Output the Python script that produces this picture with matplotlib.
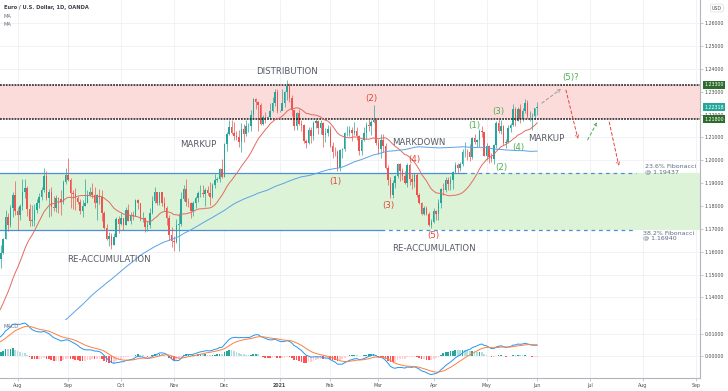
import numpy as np
import pandas as pd
import matplotlib
matplotlib.use("Agg")
import matplotlib.pyplot as plt
from matplotlib.transforms import blended_transform_factory

# ---------------- data ----------------
# daily closes before the visible window (Mar 2 - Jul 21 2020), used only for the indicators
hist_close = [
    1.1136, 1.1172, 1.1136, 1.1240, 1.1284, 1.1450, 1.1284, 1.1268, 1.1180, 1.1106, 1.1185,
    1.0995, 1.0917, 1.0690, 1.0695, 1.0721, 1.0791, 1.0885, 1.1030, 1.1141, 1.1044, 1.1030,
    1.0961, 1.0857, 1.0805, 1.0792, 1.0893, 1.0857, 1.0934, 1.0940, 1.0914, 1.0985, 1.0902,
    1.0838, 1.0875, 1.0862, 1.0856, 1.0822, 1.0778, 1.0820, 1.0823, 1.0825, 1.0873, 1.0955,
    1.0980, 1.0910, 1.0839, 1.0796, 1.0833, 1.0840, 1.0806, 1.0849, 1.0816, 1.0803, 1.0819,
    1.0917, 1.0922, 1.0975, 1.0945, 1.0900, 1.0898, 1.0976, 1.1007, 1.1075, 1.1103,
    1.1135, 1.1171, 1.1236, 1.1335, 1.1292, 1.1293, 1.1343, 1.1373, 1.1300, 1.1256, 1.1325,
    1.1262, 1.1245, 1.1206, 1.1178, 1.1259, 1.1306, 1.1249, 1.1219, 1.1219, 1.1245, 1.1234,
    1.1250, 1.1238, 1.1246, 1.1309, 1.1274, 1.1331, 1.1286, 1.1301, 1.1343, 1.1412, 1.1411,
    1.1383, 1.1428, 1.1444, 1.1526,
]

# visible daily bars, Jul 22 2020 - Jun 1 2021 (open = previous close)
close = [
    1.1567, 1.1596, 1.1656, 1.1753, 1.1716, 1.1789, 1.1847, 1.1776,
    1.1762, 1.1800, 1.1862, 1.1877, 1.1786, 1.1735, 1.1738, 1.1784, 1.1813, 1.1841, 1.1868,
    1.1931, 1.1837, 1.1859, 1.1796, 1.1792, 1.1833, 1.1832, 1.1818, 1.1904, 1.1937,
    1.1913, 1.1855, 1.1851, 1.1837, 1.1818, 1.1779, 1.1799, 1.1813, 1.1846, 1.1863, 1.1846,
    1.1815, 1.1849, 1.1838, 1.1771, 1.1703, 1.1657, 1.1670, 1.1631, 1.1665, 1.1745, 1.1722,
    1.1747, 1.1716, 1.1782, 1.1735, 1.1761, 1.1758, 1.1826, 1.1813, 1.1744, 1.1747, 1.1706,
    1.1718, 1.1768, 1.1820, 1.1862, 1.1815, 1.1860, 1.1811, 1.1793, 1.1746, 1.1674, 1.1646,
    1.1641, 1.1716, 1.1722, 1.1831, 1.1876, 1.1816, 1.1812, 1.1779, 1.1811, 1.1834, 1.1855,
    1.1857, 1.1851, 1.1872, 1.1858, 1.1841, 1.1890, 1.1914, 1.1917, 1.1963, 1.1927,
    1.2073, 1.2114, 1.2147, 1.2121, 1.2106, 1.2100, 1.2078, 1.2135, 1.2114, 1.2148, 1.2150,
    1.2198, 1.2266, 1.2255, 1.2240, 1.2160, 1.2190, 1.2186, 1.2188, 1.2214, 1.2250, 1.2297, 1.2215,
    1.2216, 1.2249, 1.2297, 1.2325, 1.2272, 1.2218, 1.2150, 1.2206, 1.2159, 1.2153, 1.2083,
    1.2075, 1.2131, 1.2105, 1.2164, 1.2170, 1.2140, 1.2163, 1.2111, 1.2120, 1.2136,
    1.2061, 1.2038, 1.2036, 1.1964, 1.2046, 1.2049, 1.2119, 1.2120, 1.2132, 1.2119, 1.2126,
    1.2106, 1.2040, 1.2090, 1.2120, 1.2155, 1.2152, 1.2167, 1.2176, 1.2075,
    1.2048, 1.2090, 1.2062, 1.1965, 1.1915, 1.1849, 1.1900, 1.1929, 1.1983, 1.1952, 1.1929,
    1.1902, 1.1978, 1.1917, 1.1904, 1.1937, 1.1850, 1.1813, 1.1763, 1.1792, 1.1763, 1.1718, 1.1730,
    1.1778, 1.1765, 1.1812, 1.1874, 1.1869, 1.1915, 1.1898, 1.1912, 1.1947, 1.1979, 1.1966,
    1.1982, 1.2036, 1.2037, 1.2034, 1.2015, 1.2098, 1.2082, 1.2088, 1.2129, 1.2124, 1.2020,
    1.2062, 1.2016, 1.2004, 1.2066, 1.2165, 1.2130, 1.2149, 1.2074, 1.2080, 1.2143, 1.2154,
    1.2223, 1.2173, 1.2226, 1.2180, 1.2214, 1.2251, 1.2192, 1.2192, 1.2192, 1.2227,
    1.2232,
]
high = [
    1.1601, 1.1629, 1.1660, 1.1782, 1.1768, 1.1806, 1.1863, 1.1908,
    1.1796, 1.1810, 1.1916, 1.1916, 1.1887, 1.1810, 1.1805, 1.1810, 1.1831, 1.1858, 1.1883,
    1.1966, 1.1951, 1.1875, 1.1884, 1.1843, 1.1848, 1.1840, 1.1870, 1.1915, 1.1966,
    1.2011, 1.1924, 1.1869, 1.1880, 1.1845, 1.1830, 1.1826, 1.1917, 1.1872, 1.1883, 1.1900,
    1.1882, 1.1852, 1.1873, 1.1871, 1.1779, 1.1723, 1.1687, 1.1683, 1.1683, 1.1750, 1.1754,
    1.1771, 1.1749, 1.1797, 1.1809, 1.1775, 1.1780, 1.1831, 1.1830, 1.1815, 1.1772, 1.1750,
    1.1733, 1.1790, 1.1842, 1.1881, 1.1860, 1.1860, 1.1860, 1.1841, 1.1799, 1.1761, 1.1708,
    1.1669, 1.1745, 1.1770, 1.1861, 1.1891, 1.1920, 1.1835, 1.1818, 1.1821, 1.1843, 1.1867,
    1.1893, 1.1892, 1.1877, 1.1889, 1.1905, 1.1902, 1.1941, 1.1928, 1.1966, 1.2004,
    1.2077, 1.2123, 1.2176, 1.2178, 1.2167, 1.2130, 1.2133, 1.2163, 1.2160, 1.2178, 1.2162,
    1.2219, 1.2273, 1.2272, 1.2260, 1.2250, 1.2199, 1.2212, 1.2192, 1.2250, 1.2276, 1.2310, 1.2310,
    1.2220, 1.2310, 1.2304, 1.2349, 1.2339, 1.2285, 1.2215, 1.2212, 1.2222, 1.2175, 1.2159,
    1.2091, 1.2144, 1.2145, 1.2172, 1.2180, 1.2177, 1.2176, 1.2167, 1.2142, 1.2154,
    1.2152, 1.2078, 1.2058, 1.2045, 1.2050, 1.2055, 1.2122, 1.2150, 1.2149, 1.2146, 1.2169,
    1.2145, 1.2109, 1.2093, 1.2145, 1.2168, 1.2180, 1.2174, 1.2243, 1.2183,
    1.2092, 1.2114, 1.2113, 1.2074, 1.1979, 1.1925, 1.1914, 1.1935, 1.1990, 1.1988, 1.1966,
    1.1952, 1.1990, 1.1989, 1.1941, 1.1945, 1.1943, 1.1858, 1.1818, 1.1802, 1.1800, 1.1775, 1.1743,
    1.1790, 1.1784, 1.1829, 1.1879, 1.1899, 1.1928, 1.1927, 1.1932, 1.1955, 1.1994, 1.1990,
    1.1994, 1.2048, 1.2079, 1.2049, 1.2071, 1.2101, 1.2117, 1.2091, 1.2138, 1.2150, 1.2125,
    1.2077, 1.2066, 1.2030, 1.2071, 1.2172, 1.2181, 1.2177, 1.2153, 1.2092, 1.2156, 1.2165,
    1.2245, 1.2234, 1.2232, 1.2244, 1.2229, 1.2266, 1.2262, 1.2217, 1.2206, 1.2230,
    1.2254,
]
low = [
    1.1508, 1.1530, 1.1589, 1.1657, 1.1690, 1.1708, 1.1753, 1.1762,
    1.1696, 1.1738, 1.1781, 1.1833, 1.1755, 1.1712, 1.1711, 1.1712, 1.1770, 1.1790, 1.1824,
    1.1862, 1.1827, 1.1753, 1.1754, 1.1778, 1.1775, 1.1770, 1.1762, 1.1810, 1.1895,
    1.1911, 1.1789, 1.1788, 1.1781, 1.1810, 1.1765, 1.1753, 1.1800, 1.1812, 1.1843, 1.1834,
    1.1789, 1.1737, 1.1809, 1.1736, 1.1701, 1.1652, 1.1627, 1.1612, 1.1631, 1.1666, 1.1681,
    1.1716, 1.1696, 1.1716, 1.1733, 1.1721, 1.1738, 1.1757, 1.1786, 1.1736, 1.1732, 1.1688,
    1.1689, 1.1704, 1.1763, 1.1812, 1.1803, 1.1806, 1.1802, 1.1777, 1.1718, 1.1650, 1.1622,
    1.1603, 1.1640, 1.1603, 1.1713, 1.1820, 1.1800, 1.1795, 1.1746, 1.1755, 1.1790, 1.1817,
    1.1838, 1.1840, 1.1800, 1.1848, 1.1806, 1.1836, 1.1880, 1.1904, 1.1905, 1.1924,
    1.1925, 1.2040, 1.2109, 1.2113, 1.2090, 1.2088, 1.2059, 1.2036, 1.2081, 1.2107, 1.2124,
    1.2127, 1.2180, 1.2222, 1.2130, 1.2153, 1.2155, 1.2164, 1.2182, 1.2181, 1.2209, 1.2239, 1.2208,
    1.2210, 1.2241, 1.2231, 1.2263, 1.2253, 1.2192, 1.2132, 1.2133, 1.2155, 1.2129, 1.2074,
    1.2054, 1.2071, 1.2077, 1.2087, 1.2140, 1.2115, 1.2114, 1.2059, 1.2080, 1.2105,
    1.2057, 1.2011, 1.2018, 1.1952, 1.1952, 1.2012, 1.2040, 1.2105, 1.2105, 1.2086, 1.2110,
    1.2090, 1.2023, 1.2022, 1.2083, 1.2091, 1.2128, 1.2110, 1.2161, 1.2066,
    1.2026, 1.2008, 1.2038, 1.1962, 1.1893, 1.1835, 1.1836, 1.1880, 1.1924, 1.1910, 1.1914,
    1.1898, 1.1883, 1.1892, 1.1874, 1.1883, 1.1838, 1.1809, 1.1761, 1.1762, 1.1760, 1.1712, 1.1704,
    1.1727, 1.1740, 1.1739, 1.1793, 1.1848, 1.1863, 1.1871, 1.1870, 1.1876, 1.1943, 1.1945,
    1.1955, 1.1975, 1.2016, 1.2002, 1.1995, 1.2005, 1.2073, 1.2058, 1.2059, 1.2100, 1.2018,
    1.1999, 1.1986, 1.1994, 1.1985, 1.2052, 1.2119, 1.2114, 1.2068, 1.2052, 1.2076, 1.2124,
    1.2149, 1.2152, 1.2171, 1.2162, 1.2172, 1.2206, 1.2183, 1.2173, 1.2134, 1.2180,
    1.2200,
]

resistance_zone = [1.21800, 1.23300]
fib_levels = [1.19437, 1.16940]
fib_labels = ["23.6% Fibonacci\n@ 1.19437", "38.2% Fibonacci\n@ 1.16940"]
fib_label_dates = ["2021-08-03", "2021-08-02"]
fib_label_prices = [1.1961, 1.1671]
last_price = 1.22318

phase_labels = [("DISTRIBUTION", "2021-01-06", 1.2390),
                ("MARKUP", "2020-11-16", 1.2067),
                ("MARKDOWN", "2021-03-24", 1.2076),
                ("MARKUP", "2021-06-07", 1.2093),
                ("RE-ACCUMULATION", "2020-09-24", 1.1568),
                ("RE-ACCUMULATION", "2021-04-01", 1.1616)]
red_waves = [("(1)", "2021-02-03", 1.1909), ("(2)", "2021-02-24", 1.2268),
             ("(3)", "2021-03-05", 1.1800), ("(4)", "2021-03-22", 1.2005),
             ("(5)", "2021-04-01", 1.1669)]
green_waves = [("(1)", "2021-04-26", 1.2154), ("(2)", "2021-05-11", 1.1970),
               ("(3)", "2021-05-10", 1.2215), ("(4)", "2021-05-20", 1.2054),
               ("(5)?", "2021-06-21", 1.2360)]
# projected path: (start date, start price, end date, end price, colour)
projections = [("2021-06-03", 1.2250, "2021-06-15", 1.2312, "#9a9a9a"),
               ("2021-06-17", 1.2307, "2021-06-24", 1.2093, "#e0463c"),
               ("2021-06-30", 1.2089, "2021-07-06", 1.2167, "#4caf50"),
               ("2021-07-13", 1.2167, "2021-07-19", 1.1975, "#e0463c")]
fib_solid_end = ["2021-04-19", "2021-03-02"]
fib_dash_end = ["2021-07-28", "2021-07-27"]

# ---------------- helpers ----------------
all_days = pd.bdate_range("2020-03-02", "2021-09-30")
pos = {d.strftime("%Y-%m-%d"): i for i, d in enumerate(all_days)}
def X(d):
    return pos[d]

full_close = pd.Series(hist_close + close, dtype=float)
n_hist = len(hist_close)
n = len(close)
xv = np.arange(n_hist, n_hist + n)
c = np.array(close)
o = full_close.shift(1).values[n_hist:n_hist + n]
h = np.array(high)
l = np.array(low)

sma20 = full_close.rolling(20).mean().values[n_hist:]
sma100 = full_close.rolling(100).mean().values[n_hist:]
ema12 = full_close.ewm(span=12, adjust=False).mean()
ema26 = full_close.ewm(span=26, adjust=False).mean()
macd = ema12 - ema26
signal = macd.ewm(span=9, adjust=False).mean()
hist = (macd - signal).values
macd_v = macd.values[n_hist:]
sig_v = signal.values[n_hist:]
hist_v = hist[n_hist:]
hist_prev = hist[n_hist - 1:-1]

# ---------------- figure ----------------
W, H = 728, 391
fig = plt.figure(figsize=(W / 100, H / 100), dpi=100)
ax = fig.add_axes([0, 1 - 320 / H, 700 / W, 320 / H])
axm = fig.add_axes([0, 1 - 378 / H, 700 / W, 58 / H], sharex=ax)

px_per_bar = 2.405
aug3 = X("2020-08-03")
x0 = aug3 - 17.6 / px_per_bar
x1 = x0 + 700 / px_per_bar
ax.set_xlim(x0, x1)
ax.set_ylim(1.2701 - 320 / 2286, 1.2701)
axm.set_ylim(-0.00956, 0.0162)

grid_c = "#eef0f4"
month_starts = [d for i, d in enumerate(all_days) if i == 0 or d.month != all_days[i - 1].month]
month_starts = [d for d in month_starts if d >= pd.Timestamp("2020-08-01")]
mpos = [pos[d.strftime("%Y-%m-%d")] for d in month_starts]
mlab = ["2021" if (d.month == 1) else d.strftime("%b") for d in month_starts]

for a in (ax, axm):
    a.set_facecolor("white")
    for s in ("top", "left"):
        a.spines[s].set_visible(False)
    a.spines["right"].set_color("#b2b5be")
    a.spines["bottom"].set_color("#b2b5be")
    a.spines["right"].set_linewidth(0.8)
    a.spines["bottom"].set_linewidth(0.8)
    a.yaxis.tick_right()
    a.tick_params(axis="y", labelsize=3.4, colors="#b2b5be", labelcolor="#4a4a4a",
                  length=2, width=0.5, pad=1.5)
    a.set_xticks(mpos)
    a.grid(True, color=grid_c, lw=0.6, zorder=0)
    a.set_axisbelow(True)

ax.tick_params(axis="x", length=0, labelbottom=False)
axm.tick_params(axis="x", labelsize=3.4, colors="#b2b5be", labelcolor="#4a4a4a",
                length=2, width=0.5, pad=1.5)
axm.set_xticklabels(mlab)
for t in axm.get_xticklabels():
    if t.get_text() == "2021":
        t.set_fontweight("bold")

ax.set_yticks(np.arange(1.14, 1.2651, 0.01))
ax.yaxis.set_major_formatter(plt.FuncFormatter(lambda v, p: f"{v:.5f}"))
axm.set_yticks([0.0, 0.01])
axm.yaxis.set_major_formatter(plt.FuncFormatter(lambda v, p: f"{v:.5f}"))

# zones
ax.axhspan(resistance_zone[0], resistance_zone[1], color="#fcdcda", lw=0, zorder=1)
ax.axhspan(fib_levels[1], fib_levels[0], color="#ddf3d7", lw=0, zorder=1)
for y in resistance_zone:
    ax.axhline(y, color="#1a1a1a", lw=1.1, ls=(0, (1.2, 0.7)), zorder=4)
fib_c = "#4a90d9"
for lvl, se, de in zip(fib_levels, fib_solid_end, fib_dash_end):
    ax.plot([x0, X(se)], [lvl, lvl], color=fib_c, lw=0.9, zorder=2)
    ax.plot([X(se), X(de)], [lvl, lvl], color=fib_c, lw=0.9, ls=(0, (3, 3)), zorder=2)

# candles
up_c, dn_c = "#26a69a", "#ef5350"
cols = np.where(c >= o, up_c, dn_c)
ax.vlines(xv, l, h, colors=cols, lw=0.5, zorder=3)
ax.bar(xv, np.maximum(np.abs(c - o), 0.00012), bottom=np.minimum(o, c), width=0.62,
       color=cols, lw=0, zorder=3)

# moving averages
ax.plot(xv, sma20, color="#e36a5e", lw=0.7, zorder=4)
ax.plot(xv, sma100, color="#5aa2e6", lw=0.7, zorder=4)

# text annotations
txt_c = "#575a66"
for s, d, y in phase_labels:
    ax.text(X(d), y, s, ha="center", va="center", fontsize=6.2, color=txt_c, zorder=6)
for s, d, y in red_waves:
    ax.text(X(d), y, s, ha="center", va="center", fontsize=6.2, color="#e0463c", zorder=6)
for s, d, y in green_waves:
    ax.text(X(d), y, s, ha="center", va="center", fontsize=6.2, color="#4caf50", zorder=6)
for lab, d, y in zip(fib_labels, fib_label_dates, fib_label_prices):
    ax.text(X(d), y, lab, ha="left", va="center", fontsize=4.5, color="#5a6a80",
            linespacing=0.95, zorder=6)

for d0, y0, d1, y1, col in projections:
    ax.annotate("", xy=(X(d1), y1), xytext=(X(d0), y0),
                arrowprops=dict(arrowstyle="->", color=col, lw=0.7, ls=(0, (3, 2.5)),
                                shrinkA=0, shrinkB=0, mutation_scale=5), zorder=6)

# header texts
fig.text(4 / W, 1 - 7 / H, "Euro / U.S. Dollar, 1D, OANDA", fontsize=3.7,
         fontweight="bold", color="#3c3f48", va="center", ha="left")
fig.text(4 / W, 1 - 16 / H, "MA", fontsize=3.7, color="#6a6d78", va="center")
fig.text(4 / W, 1 - 24 / H, "MA", fontsize=3.7, color="#6a6d78", va="center")
fig.text(4 / W, 1 - 327 / H, "MACD", fontsize=3.7, color="#6a6d78", va="center")

# price tags on the right axis
tr = blended_transform_factory(ax.transAxes, ax.transData)
for y, fc in [(resistance_zone[1], "#2e6b2e"), (last_price, "#26a69a"), (resistance_zone[0], "#2e6b2e")]:
    ax.text(1.006, y, f"{y:.5f}", transform=tr, fontsize=3.4, color="white", va="center",
            ha="left", clip_on=False, zorder=10,
            bbox=dict(boxstyle="square,pad=0.35", fc=fc, ec="none"))
ax.text(1.017, 1 - 8 / 320, "USD", transform=ax.transAxes, fontsize=3.4, color="#4a4a4a",
        va="center", ha="left", clip_on=False, zorder=10,
        bbox=dict(boxstyle="round,pad=0.3", fc="white", ec="#d0d3da", lw=0.4))

# MACD panel
hcols = np.where(hist_v >= 0,
                 np.where(hist_v >= hist_prev, "#26a69a", "#b2dfdb"),
                 np.where(hist_v < hist_prev, "#ff5252", "#ffcdd2"))
axm.bar(xv, hist_v, width=0.7, color=hcols, lw=0, zorder=2)
axm.plot(xv, macd_v, color="#2196f3", lw=0.7, zorder=3)
axm.plot(xv, sig_v, color="#ff7f3f", lw=0.7, zorder=3)

fig.savefig("out.png", dpi=100)
